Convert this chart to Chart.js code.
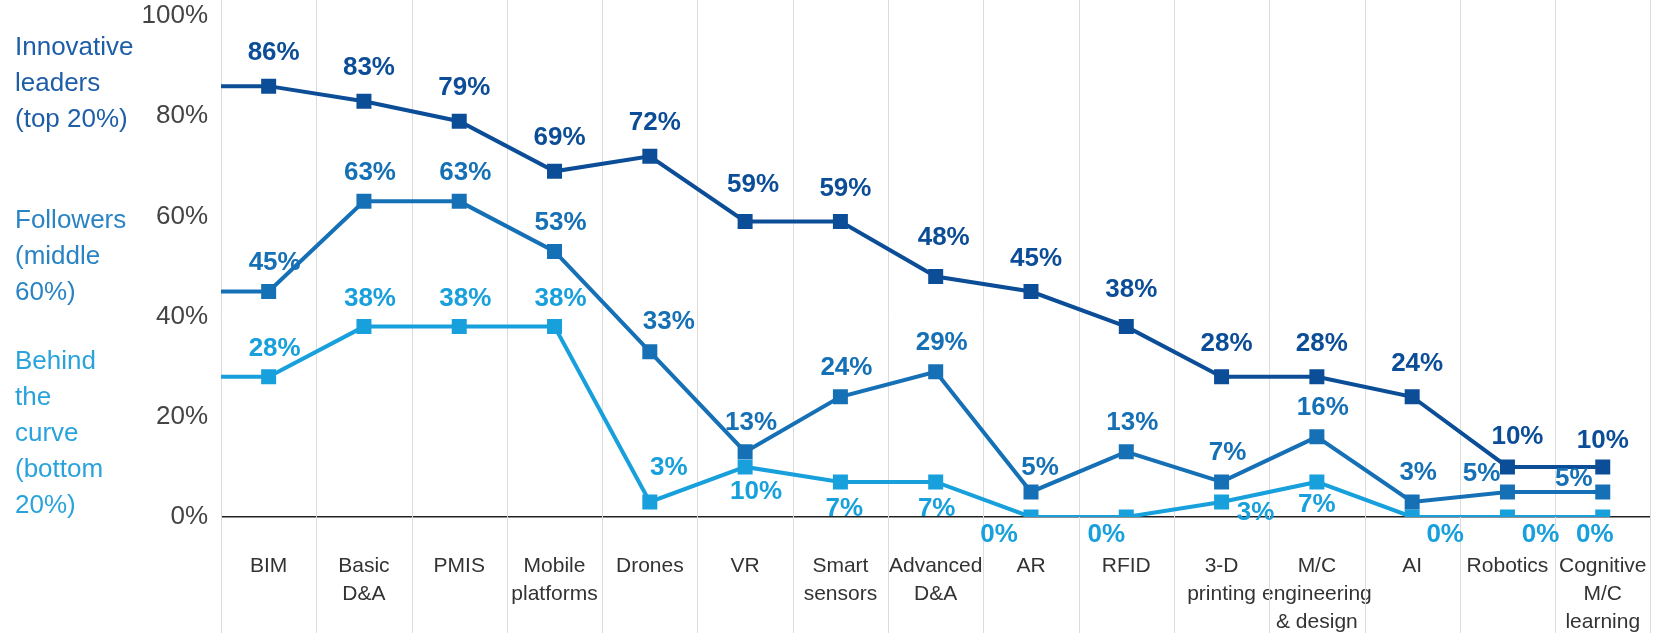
<!DOCTYPE html>
<html>
<head>
<meta charset="utf-8">
<script src="https://cdn.jsdelivr.net/npm/chart.js@4"></script>
<style>
  body { margin: 0; background: #fff; }
  #wrap { position: relative; width: 1661px; height: 633px; }
  .series-name {
    position: absolute;
    left: 15px;
    font-family: "Liberation Sans", Arial, sans-serif;
    font-size: 26px;
    line-height: 36px;
  }
</style>
</head>
<body>
<div id="wrap">
  <canvas id="adoption-chart"></canvas>
  <div class="series-name" style="top:28px;color:#1e5ea8">Innovative<br>leaders<br>(top 20%)</div>
  <div class="series-name" style="top:201px;color:#2a84c4">Followers<br>(middle<br>60%)</div>
  <div class="series-name" style="top:342px;color:#2aa3dc">Behind<br>the<br>curve<br>(bottom<br>20%)</div>
</div>
<script>
let categories = [
  ['BIM'], ['Basic', 'D&A'], ['PMIS'], ['Mobile', 'platforms'], ['Drones'], ['VR'],
  ['Smart', 'sensors'], ['Advanced', 'D&A'], ['AR'], ['RFID'], ['3-D', 'printing'],
  ['M/C', 'engineering', '& design'], ['AI'], ['Robotics'], ['Cognitive', 'M/C', 'learning']
]
let leaders = [86, 83, 79, 69, 72, 59, 59, 48, 45, 38, 28, 28, 24, 10, 10]
let followers = [45, 63, 63, 53, 33, 13, 24, 29, 5, 13, 7, 16, 3, 5, 5]
let behind = [28, 38, 38, 38, 3, 10, 7, 7, 0, 0, 3, 7, 0, 0, 0]
let yTicks = [0, 20, 40, 60, 80, 100]

let colors = ['#0c4d98', '#1670b6', '#17a0dc']

// where each value label sits relative to its marker (default, then per-category tweaks)
let labelPos = [
  { def: [5, -33], 5: [8, -37], 7: [8, -39], 9: [5, -37], 13: [10, -30], 14: [0, -26] },
  { def: [6, -29], 4: [19, -30], 8: [9, -24], 13: [-26, -18], 14: [-29, -13] },
  { def: [6, -28], 4: [19, -34], 5: [11, 25], 6: [4, 27], 7: [1, 27], 8: [-32, 18], 9: [-20, 18],
    10: [34, 11], 11: [0, 23], 12: [33, 18], 13: [33, 18], 14: [-8, 18] }
]

// line starts at the left edge of the plot with the first value
function toPoints(values) {
  let pts = [{ x: 0, y: values[0] }]
  values.forEach((v, i) => pts.push({ x: i + 0.5, y: v }))
  return pts
}

function makeSet(values, color) {
  return {
    data: toPoints(values),
    borderColor: color,
    backgroundColor: color,
    borderWidth: 4,
    pointStyle: 'rect',
    pointRadius: ctx => ctx.dataIndex === 0 ? 0 : 10.6,
    pointBorderWidth: 0,
    tension: 0
  }
}

// vertical separators run the full height of the picture
let separators = {
  id: 'separators',
  beforeDatasetsDraw(chart) {
    let ctx = chart.ctx
    let xs = chart.scales.x
    ctx.save()
    ctx.strokeStyle = '#dcdcdc'
    ctx.lineWidth = 1
    for (let i = 0; i <= categories.length; i++) {
      let x = Math.round(xs.getPixelForValue(i)) + 0.5
      ctx.beginPath()
      ctx.moveTo(x, 0)
      ctx.lineTo(x, chart.height)
      ctx.stroke()
    }
    ctx.restore()
  }
}

let valueLabels = {
  id: 'valueLabels',
  afterDatasetsDraw(chart) {
    let ctx = chart.ctx
    ctx.save()
    ctx.font = 'bold 26px "Liberation Sans", Arial, sans-serif'
    ctx.textAlign = 'center'
    ctx.textBaseline = 'middle'
    chart.data.datasets.forEach((ds, d) => {
      let meta = chart.getDatasetMeta(d)
      ctx.fillStyle = colors[d]
      meta.data.forEach((pt, j) => {
        if (j === 0) return
        let i = j - 1
        let off = labelPos[d][i] || labelPos[d].def
        ctx.fillText(ds.data[j].y + '%', pt.x + off[0], pt.y + off[1])
      })
    })
    ctx.restore()
  }
}

let chart = new Chart(document.querySelector('#adoption-chart'), {
  type: 'line',
  data: {
    datasets: [makeSet(leaders, colors[0]), makeSet(followers, colors[1]), makeSet(behind, colors[2])]
  },
  options: {
    responsive: true,
    maintainAspectRatio: false,
    animation: false,
    layout: { padding: { top: 16, right: 7, left: 0, bottom: 0 } },
    plugins: { legend: { display: false }, tooltip: { enabled: false } },
    scales: {
      x: {
        type: 'linear',
        min: 0,
        max: categories.length,
        afterBuildTicks: scale => {
          scale.ticks = categories.map((c, i) => ({ value: i + 0.5 }))
        },
        afterFit: scale => {
          scale.height = 116
          scale.paddingLeft = 0
          scale.paddingRight = 0
        },
        grid: { display: false },
        border: { display: false },
        ticks: {
          autoSkip: false,
          maxRotation: 0,
          padding: 27,
          color: '#333',
          font: { family: '"Liberation Sans", Arial, sans-serif', size: 21, lineHeight: 1.33 },
          callback: (v, i) => categories[i]
        }
      },
      y: {
        min: 0,
        max: 100,
        afterBuildTicks: scale => {
          scale.ticks = yTicks.map(v => ({ value: v }))
        },
        afterFit: scale => {
          scale.width = 221
          scale.paddingTop = 0
          scale.paddingBottom = 0
        },
        border: { display: false },
        grid: {
          drawTicks: false,
          lineWidth: 1.5,
          color: ctx => ctx.tick && ctx.tick.value === 0 ? '#222' : 'rgba(0,0,0,0)'
        },
        ticks: {
          padding: 13,
          color: '#444',
          font: { family: '"Liberation Sans", Arial, sans-serif', size: 26 },
          callback: v => v + '%'
        }
      }
    }
  },
  plugins: [separators, valueLabels]
})
</script>
</body>
</html>
